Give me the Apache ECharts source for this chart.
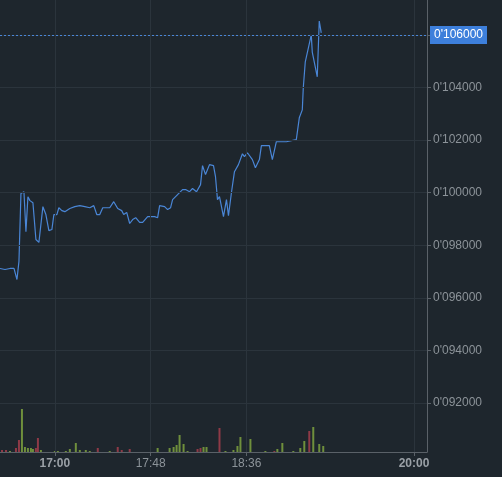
<!DOCTYPE html>
<html>
<head>
<meta charset="utf-8">
<script src="https://cdn.jsdelivr.net/npm/echarts@6/dist/echarts.min.js"></script>
<style>
  html, body { margin: 0; padding: 0; background: #1e262d; }
  #chart { width: 502px; height: 477px; }
</style>
</head>
<body>
<div id="chart"></div>
<script>
// times are minutes since midnight
const priceTimes = [992.5, 995, 997.5, 999.5, 1001, 1002, 1003, 1004.5, 1005.5, 1006.5, 1007.5, 1009, 1010.5, 1012, 1014, 1015.5, 1017, 1018.5, 1019.5, 1021, 1022, 1023.5, 1025, 1027.5, 1030, 1032.5, 1035, 1037.5, 1039.5, 1041, 1042.5, 1044, 1047.5, 1049.5, 1051.5, 1053.5, 1054.5, 1056, 1057.5, 1059, 1060.5, 1062.5, 1064, 1066.5, 1070, 1071.5, 1072.5, 1075, 1076.5, 1078, 1079, 1081.5, 1084, 1085.5, 1087.5, 1089, 1091, 1093, 1094, 1095.5, 1097.5, 1099.5, 1100.5, 1101.5, 1102.5, 1104.5, 1106, 1107, 1108.5, 1110, 1112, 1114, 1115, 1116.5, 1117.5, 1119, 1120.5, 1122.5, 1123.5, 1127.5, 1129, 1131, 1136, 1141, 1142.5, 1144, 1144.5, 1145.5, 1146.5, 1148.5, 1149, 1151.5, 1152.5, 1153.5];
const priceValues = [0.09712, 0.09708, 0.09712, 0.09712, 0.09670, 0.09739, 0.09997, 0.10004, 0.09852, 0.09985, 0.09970, 0.09962, 0.09822, 0.09811, 0.09947, 0.09917, 0.09856, 0.09860, 0.09917, 0.09917, 0.09943, 0.09932, 0.09928, 0.09940, 0.09947, 0.09951, 0.09947, 0.09943, 0.09951, 0.09917, 0.09917, 0.09943, 0.09943, 0.09966, 0.09940, 0.09932, 0.09917, 0.09925, 0.09883, 0.09898, 0.09905, 0.09887, 0.09887, 0.09909, 0.09909, 0.09905, 0.09951, 0.09947, 0.09936, 0.09943, 0.09974, 0.09993, 0.10012, 0.10012, 0.10004, 0.10016, 0.10004, 0.10031, 0.10103, 0.10069, 0.10107, 0.10103, 0.10061, 0.09974, 0.09985, 0.09909, 0.09974, 0.09913, 0.10001, 0.10080, 0.10107, 0.10148, 0.10137, 0.10152, 0.10156, 0.10126, 0.10095, 0.10126, 0.10179, 0.10179, 0.10126, 0.10194, 0.10194, 0.10202, 0.10285, 0.10315, 0.10399, 0.10498, 0.10498, 0.10600, 0.10535, 0.10441, 0.10653, 0.10608];

const volTimes = [993.5, 995.5, 997.5, 1000.5, 1002, 1003.5, 1005, 1006.5, 1008, 1009, 1010.5, 1011.5, 1013, 1020, 1021.5, 1025.5, 1027.5, 1030.5, 1032.5, 1035.5, 1037.5, 1041.5, 1047.5, 1051.5, 1053.5, 1057.5, 1071.5, 1077.5, 1079.5, 1081, 1082.5, 1084.5, 1086.5, 1091.5, 1093, 1094.5, 1096, 1102.5, 1105.5, 1109.5, 1111.5, 1113, 1118, 1125.5, 1130, 1131.5, 1134, 1139.5, 1143, 1145, 1147.5, 1149.5, 1152.5, 1154.5];
const volValues = [2, 2, 1, 4, 12, 43, 5, 4, 4, 3, 4, 14, 2, 1, 1, 1, 3, 9, 2, 2, 1, 4, 1, 5, 2, 3, 4, 4, 5, 7, 17, 8, 1, 3, 4, 5, 5, 24, 1, 2, 6, 15, 13, 1, 1, 3, 9, 1, 4, 11, 21, 25, 8, 6];
const volUp = [0, 0, 1, 0, 0, 1, 1, 1, 1, 1, 0, 0, 1, 1, 1, 1, 1, 1, 1, 1, 1, 0, 1, 0, 0, 0, 1, 1, 1, 1, 1, 1, 1, 0, 0, 1, 1, 0, 1, 1, 1, 1, 1, 1, 0, 1, 1, 1, 1, 1, 0, 1, 1, 1];

const xTicks = [1020, 1068, 1116, 1200];
const yTicks = [0.092, 0.094, 0.096, 0.098, 0.100, 0.102, 0.104, 0.106];
const lastPrice = 0.106;

const X_MIN = 992.5, X_MAX = 1206.5;
const K = 1e6; // work in millionths so marker values are not rounded

function hhmm(v) {
  const h = Math.floor(v / 60), m = Math.round(v % 60);
  return h + ':' + String(m).padStart(2, '0');
}
function priceLabel(u) {
  return "0'" + String(Math.round(u)).padStart(6, '0');
}
const yTicksU = yTicks.map(v => Math.round(v * K));

const chart = echarts.init(document.getElementById('chart'), undefined, { renderer: 'canvas' });

const gridLine = { color: '#2b343c', type: 'solid', width: 1 };

const option = {
  backgroundColor: '#1e262d',
  animation: false,
  grid: [
    { left: 0, right: 75, top: 0, bottom: 25 },
    { left: 0, right: 75, top: 352, bottom: 25 }
  ],
  xAxis: [{
    type: 'value', gridIndex: 0, min: X_MIN, max: X_MAX,
    axisLine: { show: true, lineStyle: { color: '#5a6168' } },
    axisTick: { show: true, customValues: xTicks, length: 4, lineStyle: { color: '#5a6168' } },
    splitLine: { show: false },
    axisLabel: {
      customValues: xTicks, color: '#8c9399', fontSize: 12, fontFamily: 'Arial', margin: 6,
      formatter: v => (v % 60 === 0 ? '{b|' + hhmm(v) + '}' : hhmm(v)),
      rich: { b: { fontWeight: 'bold', color: '#9aa0a6', fontSize: 12, fontFamily: 'Arial' } }
    }
  }, {
    type: 'value', gridIndex: 1, min: X_MIN, max: X_MAX, show: false
  }],
  yAxis: [{
    type: 'value', gridIndex: 0, position: 'right',
    min: 90140, max: 107330,
    axisLine: { show: true, lineStyle: { color: '#5a6168' } },
    axisTick: { show: true, customValues: yTicksU, length: 4, lineStyle: { color: '#5a6168' } },
    splitLine: { show: false },
    axisLabel: { customValues: yTicksU, color: '#8c9399', fontSize: 12, fontFamily: 'Arial', margin: 6, formatter: priceLabel }
  }, {
    type: 'value', gridIndex: 1, min: 0, max: 100, show: false
  }],
  series: [{
    type: 'line', xAxisIndex: 0, yAxisIndex: 0,
    data: priceTimes.map((t, i) => [t, Math.round(priceValues[i] * K)]),
    showSymbol: false,
    lineStyle: { color: '#4a86d6', width: 1.2 },
    markLine: {
      silent: true, symbol: 'none', precision: 0,
      data: [
        ...yTicksU.map(v => ({ yAxis: v, lineStyle: gridLine, label: { show: false } })),
        ...xTicks.map(v => ({ xAxis: v, lineStyle: gridLine, label: { show: false } })),
        {
          yAxis: Math.round(lastPrice * K),
          lineStyle: { color: '#4a86d6', type: [2, 2], width: 1 },
          label: {
            show: true, position: 'end', formatter: priceLabel(lastPrice * K), distance: 3,
            color: '#fff', backgroundColor: '#3d7fdb', padding: [3, 4, 3, 4],
            fontSize: 12, fontFamily: 'Arial'
          }
        }
      ]
    },
    z: 3
  }, {
    type: 'bar', xAxisIndex: 1, yAxisIndex: 1,
    barWidth: 2,
    data: volTimes.map((t, i) => ({
      value: [t, volValues[i]],
      itemStyle: { color: volUp[i] ? '#6f8f3c' : '#8f3a47' }
    }))
  }]
};

chart.setOption(option);
</script>
</body>
</html>
